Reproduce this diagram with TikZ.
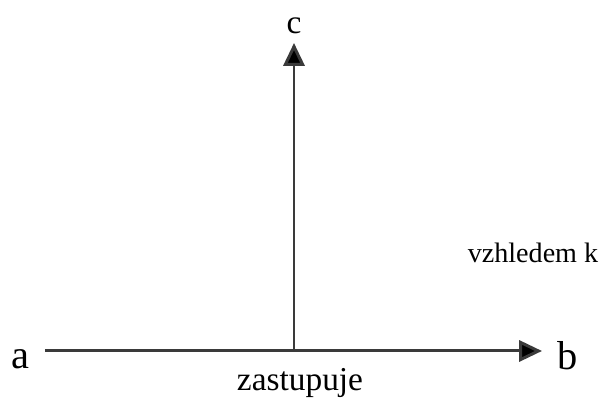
\documentclass[tikz,border=0pt]{standalone}
\usepackage{fontspec}
\setmainfont{Liberation Serif}
\usetikzlibrary{arrows.meta, positioning}
\definecolor{axisGray}{HTML}{3A3A3A}

\begin{document}
\begin{tikzpicture}[x=0.02cm, y=-0.02cm, font=\fontsize{19}{22}\selectfont,
    axis/.style={draw=axisGray, line width=1.7pt, -{Triangle[length=13pt, width=12pt, fill=black]}}]
    \useasboundingbox (0,0) rectangle (600,401);
    \coordinate (left) at (45,351);
    \coordinate (right) at (542,351);
    \coordinate (mid) at (294,351);
    \coordinate (top) at (294,43);
    \node[font=\fontsize{23}{27}\selectfont] (a) at (20,359) {a};
    \node[font=\fontsize{23}{27}\selectfont] (b) at (568,356) {b};
    \node[font=\fontsize{19}{22}\selectfont] (c) at (294,26) {c};
    \node (zast) at (300,383) {zastupuje};
    \node[font=\fontsize{16}{19}\selectfont] (vzh) at (533,253) {vzhledem k};
    \draw[axis] (left) -- (right);
    \draw[axis] (mid) -- (top);
  \end{tikzpicture}
\end{document}
